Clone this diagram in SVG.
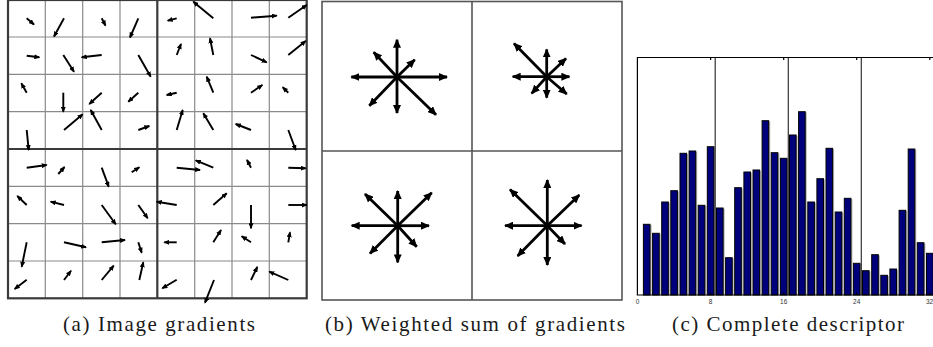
<svg xmlns="http://www.w3.org/2000/svg" width="933" height="347" viewBox="0 0 933 347">
<style>
.thin{stroke:#8a8a8a;stroke-width:1.2;fill:none}
.thick{stroke:#3a3a3a;stroke-width:2.2;fill:none}
#gradients line{stroke:#000;stroke-width:1.9;marker-end:url(#hs)}
#panel-b g line{stroke:#000;stroke-width:2.8;marker-end:url(#hb)}
.frame{stroke:#555;stroke-width:1.6;fill:none}
.bar{fill:#00007c;stroke:#000;stroke-width:1}
.shadow{fill:#b0b0b0}
.sep{stroke:#333;stroke-width:1.2}
.axis{stroke:#000;stroke-width:1.2;fill:none}
.tick{font-family:"Liberation Sans",Arial,sans-serif;font-size:6.5px;fill:#333;text-anchor:middle}
.cap{font-family:"Liberation Serif","DejaVu Serif",serif;font-size:21px;fill:#1a1a1a;text-anchor:middle}
</style>
<defs>
<marker id="hs" viewBox="0 0 6 5" refX="5" refY="2.5" markerWidth="6" markerHeight="5" markerUnits="userSpaceOnUse" orient="auto"><path d="M0,0 L6,2.5 L0,5 z" fill="#000"/></marker>
<marker id="hb" viewBox="0 0 9 8" refX="8" refY="4" markerWidth="9" markerHeight="8" markerUnits="userSpaceOnUse" orient="auto"><path d="M0,0 L9,4 L0,8 z" fill="#000"/></marker>
</defs>
<rect width="933" height="347" fill="#fff"/>

<g id="panel-a">
<g id="grid-a">
<path class="thin" d="M45.3,0V298.3M82.7,0V298.3M120,0V298.3M194.7,0V298.3M232,0V298.3M269.3,0V298.3M8,37H306.7M8,74.4H306.7M8,111.7H306.7M8,186.4H306.7M8,223.7H306.7M8,261H306.7"/>
<path class="thick" d="M157.3,0V298.3M8,149H306.7"/>
<rect class="thick" x="8" y="0" width="298.7" height="298.3"/>
</g>
<g id="gradients">
<line x1="26.7" y1="18.3" x2="34" y2="24.5"/>
<line x1="64" y1="18.3" x2="54" y2="36.5"/>
<line x1="101.7" y1="18.3" x2="105.5" y2="25.5"/>
<line x1="138.3" y1="18.3" x2="130" y2="37.5"/>
<line x1="176.7" y1="18.3" x2="167.7" y2="20.7"/>
<line x1="213.3" y1="18.3" x2="193.3" y2="1.7"/>
<line x1="251" y1="17.7" x2="276.7" y2="15.7"/>
<line x1="288.3" y1="17.7" x2="306.7" y2="5"/>
<line x1="26.7" y1="55.7" x2="39.3" y2="57.3"/>
<line x1="63.3" y1="55" x2="74" y2="71.7"/>
<line x1="101.7" y1="55" x2="81.7" y2="57.3"/>
<line x1="138.3" y1="55" x2="150.7" y2="76.7"/>
<line x1="176.7" y1="55" x2="181" y2="44"/>
<line x1="213.3" y1="55" x2="210" y2="38.3"/>
<line x1="251" y1="55" x2="266.7" y2="62.3"/>
<line x1="288.3" y1="55" x2="305.7" y2="41"/>
<line x1="26.7" y1="92.7" x2="21.3" y2="83.3"/>
<line x1="63.3" y1="92.7" x2="63.3" y2="111.7"/>
<line x1="101.7" y1="92.7" x2="89.3" y2="104"/>
<line x1="138.3" y1="92.7" x2="128.3" y2="101.7"/>
<line x1="176.7" y1="92.7" x2="166.7" y2="95"/>
<line x1="213.3" y1="92.7" x2="206.7" y2="76.7"/>
<line x1="251" y1="92.7" x2="262.3" y2="85"/>
<line x1="288.3" y1="92.7" x2="282.7" y2="87.3"/>
<line x1="26.7" y1="130" x2="28.7" y2="150"/>
<line x1="64" y1="130" x2="82.7" y2="114.3"/>
<line x1="101.7" y1="130" x2="90.7" y2="110"/>
<line x1="138.3" y1="130" x2="149.3" y2="126"/>
<line x1="176.7" y1="130" x2="182.7" y2="110"/>
<line x1="213.3" y1="130" x2="203.3" y2="113.3"/>
<line x1="251" y1="130" x2="235.7" y2="124"/>
<line x1="288.3" y1="130" x2="295.7" y2="150"/>
<line x1="26.7" y1="167.7" x2="46.7" y2="165"/>
<line x1="58.3" y1="174" x2="64.5" y2="167"/>
<line x1="101.7" y1="167.7" x2="108.7" y2="186.7"/>
<line x1="131.7" y1="172.3" x2="139.3" y2="167.3"/>
<line x1="176.7" y1="167.7" x2="200" y2="170"/>
<line x1="213.3" y1="167.7" x2="195.7" y2="160.3"/>
<line x1="251" y1="167.7" x2="247" y2="160"/>
<line x1="288.3" y1="167.7" x2="305.7" y2="168.3"/>
<line x1="26.7" y1="205" x2="17.3" y2="196"/>
<line x1="64" y1="205" x2="50.7" y2="201.7"/>
<line x1="101.7" y1="205" x2="115.7" y2="224.3"/>
<line x1="138.3" y1="205" x2="147.7" y2="218.3"/>
<line x1="176.7" y1="205" x2="156.7" y2="201.7"/>
<line x1="213.3" y1="205" x2="226.7" y2="193.3"/>
<line x1="251" y1="205" x2="251" y2="228.3"/>
<line x1="288.3" y1="205" x2="306.7" y2="205"/>
<line x1="26.7" y1="242.3" x2="21.7" y2="266.7"/>
<line x1="64" y1="242.3" x2="86" y2="247.3"/>
<line x1="101.7" y1="242.3" x2="125" y2="240"/>
<line x1="138.3" y1="242.3" x2="141.7" y2="252.7"/>
<line x1="176.7" y1="242.3" x2="164.3" y2="242.3"/>
<line x1="213.3" y1="242.3" x2="221" y2="230"/>
<line x1="251" y1="242.3" x2="241.7" y2="236.3"/>
<line x1="288.3" y1="242.3" x2="290" y2="232.3"/>
<line x1="26.7" y1="279.7" x2="14.7" y2="289"/>
<line x1="64" y1="280" x2="71" y2="270.7"/>
<line x1="101.7" y1="280" x2="113.7" y2="265.7"/>
<line x1="139.3" y1="280" x2="143.3" y2="262.3"/>
<line x1="176.7" y1="279.7" x2="162.3" y2="288.3"/>
<line x1="214" y1="280" x2="205" y2="302.7"/>
<line x1="251" y1="280" x2="257.3" y2="267"/>
<line x1="288.3" y1="280" x2="269.3" y2="271.7"/>
</g>
</g>

<g id="panel-b">
<rect class="frame" x="322" y="1.5" width="300" height="298.5"/>
<path class="frame" d="M472,1.5V300M322,151H622"/>
<g id="star-tl">
<line x1="397" y1="77" x2="447" y2="77"/>
<line x1="397" y1="77" x2="351.3" y2="77"/>
<line x1="397" y1="77" x2="397" y2="39.7"/>
<line x1="397" y1="77" x2="397" y2="113"/>
<line x1="397" y1="77" x2="414.7" y2="59.7"/>
<line x1="397" y1="77" x2="373.7" y2="52.3"/>
<line x1="397" y1="77" x2="369.3" y2="105.7"/>
<line x1="397" y1="77" x2="436" y2="114.7"/>
</g>
<g id="star-tr">
<line x1="546.7" y1="76.7" x2="569.4" y2="76.7"/>
<line x1="546.7" y1="76.7" x2="512.7" y2="76.7"/>
<line x1="546.7" y1="76.7" x2="546.7" y2="49.4"/>
<line x1="546.7" y1="76.7" x2="546.7" y2="97.7"/>
<line x1="546.7" y1="76.7" x2="566" y2="58.4"/>
<line x1="546.7" y1="76.7" x2="514" y2="43.4"/>
<line x1="546.7" y1="76.7" x2="531.7" y2="93.4"/>
<line x1="546.7" y1="76.7" x2="566.7" y2="94"/>
</g>
<g id="star-bl">
<line x1="397.7" y1="225.7" x2="429" y2="225.7"/>
<line x1="397.7" y1="225.7" x2="351.7" y2="225.7"/>
<line x1="397.7" y1="225.7" x2="397.7" y2="191"/>
<line x1="397.7" y1="225.7" x2="397.7" y2="262.4"/>
<line x1="397.7" y1="225.7" x2="431.7" y2="192.7"/>
<line x1="397.7" y1="225.7" x2="365" y2="194"/>
<line x1="397.7" y1="225.7" x2="370" y2="253.4"/>
<line x1="397.7" y1="225.7" x2="416.7" y2="246.7"/>
</g>
<g id="star-br">
<line x1="547.3" y1="225.7" x2="581.6" y2="225.7"/>
<line x1="547.3" y1="225.7" x2="505" y2="225.7"/>
<line x1="547.3" y1="225.7" x2="547.3" y2="180"/>
<line x1="547.3" y1="225.7" x2="547.3" y2="265"/>
<line x1="547.3" y1="225.7" x2="579.3" y2="195"/>
<line x1="547.3" y1="225.7" x2="510" y2="189.4"/>
<line x1="547.3" y1="225.7" x2="517.6" y2="256"/>
<line x1="547.3" y1="225.7" x2="565" y2="244"/>
</g>
</g>

<g id="panel-c">
<g id="shadows">
<rect class="shadow" x="645" y="225" width="6.6" height="70"/>
<rect class="shadow" x="654.1" y="234" width="6.6" height="61"/>
<rect class="shadow" x="663.2" y="202.7" width="6.6" height="92.3"/>
<rect class="shadow" x="672.3" y="191.4" width="6.6" height="103.6"/>
<rect class="shadow" x="681.5" y="154" width="6.6" height="141"/>
<rect class="shadow" x="690.6" y="151.7" width="6.6" height="143.3"/>
<rect class="shadow" x="699.7" y="206" width="6.6" height="89"/>
<rect class="shadow" x="708.8" y="147.4" width="6.6" height="147.6"/>
<rect class="shadow" x="718" y="208.7" width="6.6" height="86.3"/>
<rect class="shadow" x="727.1" y="258.4" width="6.6" height="36.6"/>
<rect class="shadow" x="736.2" y="188.4" width="6.6" height="106.6"/>
<rect class="shadow" x="745.4" y="172.7" width="6.6" height="122.3"/>
<rect class="shadow" x="754.5" y="170.7" width="6.6" height="124.3"/>
<rect class="shadow" x="763.6" y="121.4" width="6.6" height="173.6"/>
<rect class="shadow" x="772.7" y="153.4" width="6.6" height="141.6"/>
<rect class="shadow" x="781.9" y="159" width="6.6" height="136"/>
<rect class="shadow" x="791" y="135.7" width="6.6" height="159.3"/>
<rect class="shadow" x="800.1" y="112.4" width="6.6" height="182.6"/>
<rect class="shadow" x="809.3" y="202.7" width="6.6" height="92.3"/>
<rect class="shadow" x="818.4" y="179.4" width="6.6" height="115.6"/>
<rect class="shadow" x="827.5" y="149" width="6.6" height="146"/>
<rect class="shadow" x="836.7" y="212.7" width="6.6" height="82.3"/>
<rect class="shadow" x="845.8" y="199" width="6.6" height="96"/>
<rect class="shadow" x="854.9" y="264" width="6.6" height="31"/>
<rect class="shadow" x="864" y="271.4" width="6.6" height="23.6"/>
<rect class="shadow" x="873.2" y="255.4" width="6.6" height="39.6"/>
<rect class="shadow" x="882.3" y="276" width="6.6" height="19"/>
<rect class="shadow" x="891.4" y="269.7" width="6.6" height="25.3"/>
<rect class="shadow" x="900.6" y="211" width="6.6" height="84"/>
<rect class="shadow" x="909.7" y="149.7" width="6.6" height="145.3"/>
<rect class="shadow" x="918.8" y="243.4" width="6.6" height="51.6"/>
<rect class="shadow" x="928" y="254" width="6.6" height="41"/>
</g>
<g id="bars">
<rect class="bar" x="643.4" y="224.3" width="6.6" height="70.7"/>
<rect class="bar" x="652.6" y="233.3" width="6.6" height="61.7"/>
<rect class="bar" x="661.7" y="202" width="6.6" height="93"/>
<rect class="bar" x="670.8" y="190.7" width="6.6" height="104.3"/>
<rect class="bar" x="680" y="153.3" width="6.6" height="141.7"/>
<rect class="bar" x="689.1" y="151" width="6.6" height="144"/>
<rect class="bar" x="698.2" y="205.3" width="6.6" height="89.7"/>
<rect class="bar" x="707.3" y="146.7" width="6.6" height="148.3"/>
<rect class="bar" x="716.5" y="208" width="6.6" height="87"/>
<rect class="bar" x="725.6" y="257.7" width="6.6" height="37.3"/>
<rect class="bar" x="734.7" y="187.7" width="6.6" height="107.3"/>
<rect class="bar" x="743.9" y="172" width="6.6" height="123"/>
<rect class="bar" x="753" y="170" width="6.6" height="125"/>
<rect class="bar" x="762.1" y="120.7" width="6.6" height="174.3"/>
<rect class="bar" x="771.2" y="152.7" width="6.6" height="142.3"/>
<rect class="bar" x="780.4" y="158.3" width="6.6" height="136.7"/>
<rect class="bar" x="789.5" y="135" width="6.6" height="160"/>
<rect class="bar" x="798.6" y="111.7" width="6.6" height="183.3"/>
<rect class="bar" x="807.8" y="202" width="6.6" height="93"/>
<rect class="bar" x="816.9" y="178.7" width="6.6" height="116.3"/>
<rect class="bar" x="826" y="148.3" width="6.6" height="146.7"/>
<rect class="bar" x="835.2" y="212" width="6.6" height="83"/>
<rect class="bar" x="844.3" y="198.3" width="6.6" height="96.7"/>
<rect class="bar" x="853.4" y="263.3" width="6.6" height="31.7"/>
<rect class="bar" x="862.5" y="270.7" width="6.6" height="24.3"/>
<rect class="bar" x="871.7" y="254.7" width="6.6" height="40.3"/>
<rect class="bar" x="880.8" y="275.3" width="6.6" height="19.7"/>
<rect class="bar" x="889.9" y="269" width="6.6" height="26"/>
<rect class="bar" x="899.1" y="210.3" width="6.6" height="84.7"/>
<rect class="bar" x="908.2" y="149" width="6.6" height="146"/>
<rect class="bar" x="917.3" y="242.7" width="6.6" height="52.3"/>
<rect class="bar" x="926.5" y="253.3" width="6.6" height="41.7"/>
</g>
<g id="axes">
<path class="sep" d="M715.2,57.5V295M788.3,57.5V295M861.3,57.5V295"/>
<path class="axis" d="M934,57.5H637.4V295H934"/>
<path class="axis" d="M710.6,57.5v2.5M783.7,57.5v2.5M856.7,57.5v2.5M929.8,57.5v2.5M710.6,295v-2.5M783.7,295v-2.5M856.7,295v-2.5M929.8,295v-2.5"/>
<text class="tick" x="637.6" y="304">0</text>
<text class="tick" x="710.6" y="304">8</text>
<text class="tick" x="783.7" y="304">16</text>
<text class="tick" x="856.7" y="304">24</text>
<text class="tick" x="929.5" y="304">32</text>
</g>
</g>

<g id="captions">
<text class="cap" x="159" y="331" textLength="192" lengthAdjust="spacing">(a) Image gradients</text>
<text class="cap" x="475" y="331" textLength="300" lengthAdjust="spacing">(b) Weighted sum of gradients</text>
<text class="cap" x="788" y="331" textLength="232" lengthAdjust="spacing">(c) Complete descriptor</text>
</g>
</svg>
